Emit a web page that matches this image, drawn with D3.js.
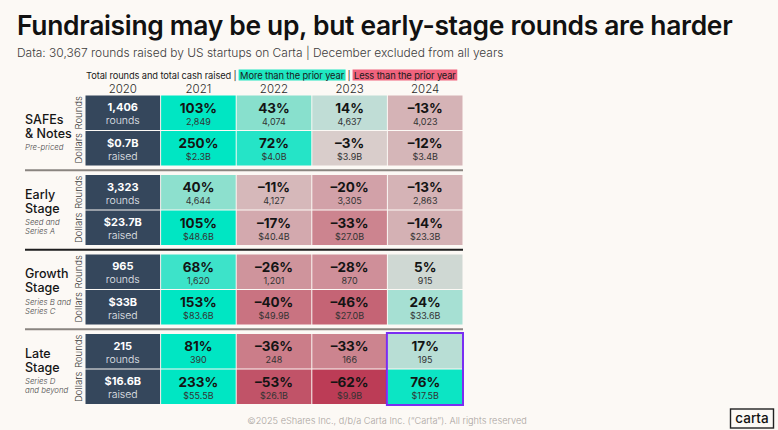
<!DOCTYPE html>
<html>
<head>
<meta charset="utf-8">
<script src="https://cdn.jsdelivr.net/npm/d3@7"></script>
<style>
  html, body { margin: 0; padding: 0; background: #fcf9f5; }
  svg { display: block; font-family: Inter, "Noto Sans", sans-serif; }
</style>
</head>
<body>
<svg id="chart" width="778" height="430"></svg>
<script>
// ---------------- DATA ----------------
const years = [2020, 2021, 2022, 2023, 2024];
const stages = ["SAFEs|& Notes", "Early|Stage", "Growth|Stage", "Late|Stage"];
const stageNotes = ["Pre-priced", "Seed and|Series A", "Series B and|Series C", "Series D|and beyond"];
const metrics = ["Rounds", "Dollars"];

const baseRounds2020 = [1406, 3323, 965, 215];
const baseDollars2020 = [0.7, 23.7, 33, 16.6];   // $B

// 2021..2024 totals
const roundsSAFEs  = [2849, 4074, 4637, 4023];
const roundsEarly  = [4644, 4127, 3305, 2863];
const roundsGrowth = [1620, 1201, 870, 915];
const roundsLate   = [390, 248, 166, 195];

const dollarsSAFEs  = [2.3, 4.0, 3.9, 3.4];
const dollarsEarly  = [48.6, 40.4, 27.0, 23.3];
const dollarsGrowth = [83.6, 49.9, 27.0, 33.6];
const dollarsLate   = [55.5, 26.1, 9.9, 17.5];

// year-over-year change, %
const roundsPctSAFEs  = [103, 43, 14, -13];
const roundsPctEarly  = [40, -11, -20, -13];
const roundsPctGrowth = [68, -26, -28, 5];
const roundsPctLate   = [81, -36, -33, 17];

const dollarsPctSAFEs  = [250, 72, -3, -12];
const dollarsPctEarly  = [105, -17, -33, -14];
const dollarsPctGrowth = [153, -40, -46, 24];
const dollarsPctLate   = [233, -53, -62, 76];

const highlight = { stage: 3, year: 2024 };

// ---------------- BUILD ----------------
const roundsAll = [roundsSAFEs, roundsEarly, roundsGrowth, roundsLate];
const dollarsAll = [dollarsSAFEs, dollarsEarly, dollarsGrowth, dollarsLate];
const roundsPctAll = [roundsPctSAFEs, roundsPctEarly, roundsPctGrowth, roundsPctLate];
const dollarsPctAll = [dollarsPctSAFEs, dollarsPctEarly, dollarsPctGrowth, dollarsPctLate];

const fmtInt = d3.format(",");
const fmtB = v => "$" + d3.format(".1f")(v) + "B";
const fmtB0 = v => "$" + d3.format(".1~f")(v) + "B";
const fmtPct = v => (v < 0 ? "\u2013" : "") + Math.abs(v) + "%";

const cells = [];
stages.forEach((s, si) => {
  metrics.forEach((m, mi) => {
    years.forEach((y, yi) => {
      if (yi === 0) {
        cells.push({ si, mi, year: y, base: true,
          main: mi === 0 ? fmtInt(baseRounds2020[si]) : fmtB0(baseDollars2020[si]),
          sub: mi === 0 ? "rounds" : "raised" });
      } else {
        const pct = (mi === 0 ? roundsPctAll : dollarsPctAll)[si][yi - 1];
        const val = (mi === 0 ? roundsAll : dollarsAll)[si][yi - 1];
        cells.push({ si, mi, year: y, base: false, pct,
          main: fmtPct(pct),
          sub: mi === 0 ? fmtInt(val) : fmtB(val) });
      }
    });
  });
});

// ---------------- LAYOUT ----------------
const svg = d3.select("#chart");
svg.append("rect").attr("width", 778).attr("height", 430).attr("fill", "#fcf9f5");

const x = d3.scaleBand().domain(years).range([85, 463]).padding(0);
const blockStep = 79.5, blockH = 71, top0 = 95;
const yBlock = d3.scaleLinear().domain([0, 1]).range([top0, top0 + blockStep]);
const y = (si, mi) => yBlock(si) + mi * blockH / 2;
const rowH = blockH / 2;

const color = d3.scaleLinear()
  .domain([-62, -36, -20, 0, 5, 14, 24, 43, 68, 78])
  .range(["#bc3c56", "#cb7d89", "#d2a1a8", "#dad5d1", "#cfd8d3", "#c0ddd6", "#a6e0d3", "#88e0cd", "#3de3c9", "#00e6c3"])
  .clamp(true);

function fitWidth(sel, target) {
  const fs = parseFloat(sel.attr("font-size"));
  const w = sel.node().getComputedTextLength();
  sel.attr("font-size", fs * target / w);
}

// title
const title = svg.append("text").attr("x", 17).attr("y", 35)
  .attr("font-size", 27).attr("font-weight", 600).attr("fill", "#111")
  .attr("letter-spacing", -0.3)
  .text("Fundraising may be up, but early-stage rounds are harder");
fitWidth(title, 716);

const sub = svg.append("text").attr("x", 17).attr("y", 57)
  .attr("font-size", 11.5).attr("font-weight", 300).attr("fill", "#3c3c3c")
  .text("Data: 30,367 rounds raised by US startups on Carta | December excluded from all years");
fitWidth(sub, 487);

// legend
const lg = svg.append("g");
const legendParts = [
  { t: "Total rounds and total cash raised |", bg: null },
  { t: "More than the prior year", bg: "#1fe6c1" },
  { t: "|", bg: null },
  { t: "Less than the prior year", bg: "#f0637d" }
];
let lx = 86;
const lgFs = 9.3, lgY = 78.5;
legendParts.forEach((p, i) => {
  const gap = i === 0 ? 0 : 2;
  lx += gap;
  const t = lg.append("text").attr("y", lgY).attr("font-size", lgFs).attr("fill", "#1a1a1a")
    .attr("letter-spacing", -0.1).text(p.t);
  const pad = p.bg ? 1.5 : 0;
  t.attr("x", lx + pad);
  const w = t.node().getComputedTextLength();
  if (p.bg) {
    lg.insert("rect", "text").attr("x", lx).attr("y", 69.5).attr("width", w + 2 * pad).attr("height", 11)
      .attr("fill", p.bg);
  }
  lx += w + 2 * pad;
});

// years
svg.append("g").selectAll("text").data(years).join("text")
  .attr("x", d => x(d) + x.bandwidth() / 2).attr("y", 92.5)
  .attr("text-anchor", "middle").attr("font-size", 11.5).attr("font-weight", 300)
  .attr("fill", "#2a2a2a").text(d => d);

// separators between blocks
const sepColors = ["#8a8580", "#1e1e1e", "#8a8580"];
svg.append("g").selectAll("line").data([1, 2, 3]).join("line")
  .attr("x1", 25).attr("x2", 463)
  .attr("y1", d => yBlock(d) - 4.3).attr("y2", d => yBlock(d) - 4.3)
  .attr("stroke", (d, i) => sepColors[i]).attr("stroke-width", 2);

// cells
const cg = svg.append("g").selectAll("g").data(cells).join("g")
  .attr("transform", d => `translate(${x(d.year)},${y(d.si, d.mi)})`);
cg.append("rect")
  .attr("x", 0.5).attr("y", 0.5)
  .attr("width", x.bandwidth() - 1).attr("height", rowH - 1)
  .attr("fill", d => d.base ? "#35475c" : color(d.pct));
cg.append("text")
  .attr("x", x.bandwidth() / 2).attr("y", d => d.base ? 16 : 17.5)
  .attr("text-anchor", "middle")
  .attr("font-size", d => d.base ? 11 : 13.5).attr("font-weight", 700)
  .attr("fill", d => d.base ? "#ffffff" : "#141414")
  .text(d => d.main);
cg.append("text")
  .attr("x", x.bandwidth() / 2).attr("y", d => d.base ? 29 : 29.5)
  .attr("text-anchor", "middle")
  .attr("font-size", d => d.base ? 10.5 : 9).attr("font-weight", d => d.base ? 300 : 400)
  .attr("fill", d => d.base ? "#e6e9ee" : "#333")
  .text(d => d.sub);

// metric labels (rotated)
const mg = svg.append("g");
stages.forEach((s, si) => {
  metrics.forEach((m, mi) => {
    mg.append("text")
      .attr("transform", `translate(81.5,${y(si, mi) + rowH / 2}) rotate(-90)`)
      .attr("text-anchor", "middle").attr("font-size", 9.5).attr("font-weight", 300)
      .attr("fill", "#3a3a3a").text(m);
  });
});

// stage labels
stages.forEach((s, si) => {
  const lines = s.split("|");
  const notes = stageNotes[si].split("|");
  const span = 14 * (lines.length - 1) + 12.7 + 9 * (notes.length - 1);
  const center = yBlock(si) + blockH / 2;
  const b0 = center + 6.5 - span / 2;
  const g = svg.append("g");
  lines.forEach((l, i) => {
    g.append("text").attr("x", 25).attr("y", b0 + 14 * i)
      .attr("font-size", 12.5).attr("font-weight", 500).attr("fill", "#151515").text(l);
  });
  notes.forEach((n, i) => {
    g.append("text").attr("x", 25).attr("y", b0 + 14 * (lines.length - 1) + 12.7 + 9 * i)
      .attr("font-size", 7.8).attr("font-style", "italic").attr("font-weight", 300)
      .attr("fill", "#4a4a4a").text(n);
  });
});

// highlight box
svg.append("rect")
  .attr("x", x(highlight.year) - 0.5).attr("y", yBlock(highlight.stage) - 0.5)
  .attr("width", x.bandwidth() + 0.5).attr("height", blockH + 1)
  .attr("fill", "none").attr("stroke", "#7a2ef2").attr("stroke-width", 2);

// footer
const foot = svg.append("text").attr("x", 387).attr("y", 423.5).attr("text-anchor", "middle")
  .attr("font-size", 9).attr("font-weight", 300).attr("fill", "#aaa49f")
  .text("\u00a92025 eShares Inc., d/b/a Carta Inc. (\u201cCarta\u201d). All rights reserved");
fitWidth(foot, 280);

// logo
svg.append("rect").attr("x", 730.5).attr("y", 409).attr("width", 43).attr("height", 19)
  .attr("fill", "#fcf9f5").attr("stroke", "#222").attr("stroke-width", 1.4);
svg.append("text").attr("x", 752).attr("y", 422.5).attr("text-anchor", "middle")
  .attr("font-size", 13.5).attr("font-weight", 500).attr("fill", "#111").text("carta");
</script>
</body>
</html>
